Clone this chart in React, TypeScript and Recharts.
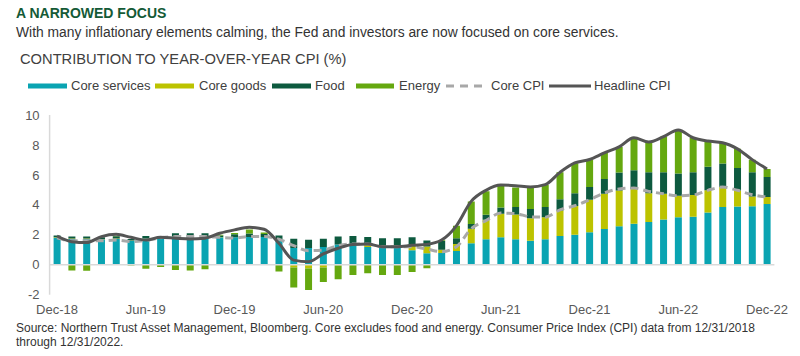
import React from 'react';
import { ComposedChart, Bar, Line, XAxis, YAxis, ReferenceLine } from 'recharts';

const months = [
  'Dec-18','Jan-19','Feb-19','Mar-19','Apr-19','May-19','Jun-19','Jul-19','Aug-19','Sep-19','Oct-19','Nov-19',
  'Dec-19','Jan-20','Feb-20','Mar-20','Apr-20','May-20','Jun-20','Jul-20','Aug-20','Sep-20','Oct-20','Nov-20',
  'Dec-20','Jan-21','Feb-21','Mar-21','Apr-21','May-21','Jun-21','Jul-21','Aug-21','Sep-21','Oct-21','Nov-21',
  'Dec-21','Jan-22','Feb-22','Mar-22','Apr-22','May-22','Jun-22','Jul-22','Aug-22','Sep-22','Oct-22','Nov-22',
  'Dec-22',
];

const coreServices = [
  1.8, 1.72, 1.72, 1.68, 1.72, 1.6, 1.77, 1.78, 1.88, 1.86, 1.86, 1.84,
  1.84, 1.86, 1.86, 1.68, 1.12, 1.12, 1.19, 1.36, 1.44, 1.19, 1.25, 1.25,
  0.97, 0.76, 0.78, 0.92, 1.43, 1.7, 1.83, 1.71, 1.6, 1.7, 1.92, 2.0,
  2.17, 2.39, 2.57, 2.73, 2.86, 3.02, 3.18, 3.2, 3.49, 3.85, 3.89, 3.91,
  4.05,
];
const coreGoods = [
  0.03, 0.03, 0.03, 0.03, 0.03, 0.02, 0.02, 0.02, 0.02, 0.02, 0.02, 0.02,
  0.0, 0.0, 0.0, 0.0, -0.18, -0.25, -0.18, -0.03, 0.0, 0.15, 0.03, 0.03,
  0.32, 0.46, 0.22, 0.47, 0.98, 1.3, 1.58, 1.65, 1.5, 1.48, 1.7, 1.92,
  2.17, 2.35, 2.39, 2.33, 1.92, 1.72, 1.43, 1.45, 1.48, 1.34, 1.07, 0.65,
  0.47,
];
const food = [
  0.12, 0.13, 0.13, 0.12, 0.15, 0.1, 0.13, 0.1, 0.2, 0.22, 0.22, 0.1,
  0.2, 0.22, 0.2, 0.27, 0.62, 0.55, 0.55, 0.52, 0.48, 0.52, 0.49, 0.49,
  0.55, 0.4, 0.58, 0.38, 0.31, 0.34, 0.42, 0.5, 0.62, 0.67, 0.76, 0.85,
  0.85, 0.98, 1.2, 1.25, 1.39, 1.43, 1.48, 1.52, 1.57, 1.57, 1.5, 1.61,
  1.34,
];
const energy = [
  0.0, -0.38, -0.4, -0.02, 0.03, -0.05, -0.27, -0.15, -0.35, -0.38, -0.3, 0.04,
  0.08, 0.27, 0.1, -0.45, -1.34, -1.43, -0.98, -0.93, -0.68, -0.56, -0.68, -0.68,
  -0.48, -0.24, 0.05, 0.83, 1.5, 1.57, 1.45, 1.3, 1.45, 1.5, 1.79, 2.0,
  1.83, 1.75, 1.7, 2.17, 2.01, 2.37, 2.91, 2.3, 1.72, 1.39, 1.28, 0.85,
  0.54,
];
const coreCPI = [
  1.8, 1.6, 1.6, 1.6, 1.65, 1.55, 1.62, 1.8, 1.88, 1.88, 1.88, 1.83,
  1.79, 1.88, 1.88, 1.7, 1.28, 0.94, 0.98, 1.28, 1.39, 1.39, 1.2, 1.2,
  1.2, 1.05, 0.87, 1.2, 2.4, 2.95, 3.45, 3.42, 3.2, 3.18, 3.67, 3.94,
  4.34, 4.79, 5.06, 5.12, 4.9, 4.74, 4.61, 4.65, 4.97, 5.19, 4.97, 4.68,
  4.52,
];
const headlineCPI = [
  1.92, 1.54, 1.48, 1.88, 2.03, 1.83, 1.65, 1.83, 1.77, 1.72, 1.77, 2.1,
  2.33, 2.5, 2.37, 1.43, 0.31, 0.2, 0.72, 1.1, 1.36, 1.39, 1.2, 1.2,
  1.3, 1.36, 1.65, 2.6, 4.23, 4.97, 5.32, 5.28, 5.2, 5.35, 6.17, 6.8,
  7.03, 7.47, 7.87, 8.48, 8.2, 8.55, 9.0, 8.48, 8.26, 8.15, 7.74, 7.02,
  6.4,
];
const yTicks = [-2, 0, 2, 4, 6, 8, 10];

const COLORS = {
  services: '#0aa4b2',
  goods: '#bcc300',
  food: '#0d5a3f',
  energy: '#65a80f',
  core: '#a8a8a8',
  headline: '#555555',
};

const data = months.map((m, i) => ({
  month: m,
  coreServices: coreServices[i],
  coreGoods: coreGoods[i],
  food: food[i],
  energy: energy[i],
  coreCPI: coreCPI[i],
  headlineCPI: headlineCPI[i],
}));

const FONT = 'Arial, "Liberation Sans", Helvetica, sans-serif';

const legendItems = [
  { label: 'Core services', color: COLORS.services, type: 'bar', x: 28, w: 39, tx: 71 },
  { label: 'Core goods', color: COLORS.goods, type: 'bar', x: 155, w: 39, tx: 199 },
  { label: 'Food', color: COLORS.food, type: 'bar', x: 272, w: 39, tx: 315 },
  { label: 'Energy', color: COLORS.energy, type: 'bar', x: 356, w: 38, tx: 399 },
  { label: 'Core CPI', color: COLORS.core, type: 'dash', x: 446, w: 37, tx: 491 },
  { label: 'Headline CPI', color: COLORS.headline, type: 'line', x: 549, w: 42, tx: 594 },
];

export default function App() {
  return (
    <div style={{ position: 'absolute', left: 0, top: 0, width: 800, height: 356, background: '#fff', fontFamily: FONT, overflow: 'hidden' }}>
      <div style={{ position: 'absolute', left: 16, top: 5, fontSize: 14, fontWeight: 'bold', color: '#145a36', lineHeight: '16px', whiteSpace: 'nowrap' }}>
        A NARROWED FOCUS
      </div>
      <div style={{ position: 'absolute', left: 16, top: 24, fontSize: 13.85, color: '#333333', lineHeight: '16px', whiteSpace: 'nowrap' }}>
        With many inflationary elements calming, the Fed and investors are now focused on core services.
      </div>
      <div style={{ position: 'absolute', left: 20, top: 50, fontSize: 14.7, color: '#404040', lineHeight: '18px', whiteSpace: 'nowrap' }}>
        CONTRIBUTION TO YEAR-OVER-YEAR CPI (%)
      </div>
      {legendItems.map((it) => (
        <React.Fragment key={it.label}>
          <svg width={it.w} height={8} style={{ position: 'absolute', left: it.x, top: 82, display: 'block' }}>
            {it.type === 'bar' && <rect x={0} y={1.5} width={it.w} height={5} fill={it.color} />}
            {it.type === 'dash' && <line x1={0} y1={4} x2={it.w} y2={4} stroke={it.color} strokeWidth={3} strokeDasharray="8 6" />}
            {it.type === 'line' && <line x1={0} y1={4} x2={it.w} y2={4} stroke={it.color} strokeWidth={3} strokeLinecap="round" />}
          </svg>
          <span style={{ position: 'absolute', left: it.tx, top: 78, lineHeight: '16px', fontSize: 13, color: '#404040', whiteSpace: 'nowrap' }}>{it.label}</span>
        </React.Fragment>
      ))}
      <div style={{ position: 'absolute', left: 0, top: 0 }}>
        <ComposedChart
          width={800}
          height={356}
          data={data}
          stackOffset="sign"
          margin={{ top: 115, right: 25.6, bottom: 41.3, left: 9.6 }}
          barCategoryGap={0}
        >
          <XAxis
            dataKey="month"
            interval={5}
            axisLine={false}
            tickLine={false}
            tickMargin={4}
            height={20}
            tick={{ fontSize: 13, fill: '#595959', fontFamily: FONT }}
          />
          <YAxis
            domain={[-2, 10]}
            ticks={yTicks}
            width={40}
            axisLine={{ stroke: '#d9d9d9', strokeWidth: 1.5 }}
            tickLine={false}
            tickMargin={4}
            tick={{ fontSize: 13, fill: '#595959', fontFamily: FONT }}
            allowDataOverflow
          />
          <ReferenceLine y={0} stroke="#d9d9d9" strokeWidth={1.5} />
          <Bar dataKey="coreServices" stackId="a" fill={COLORS.services} barSize={7} isAnimationActive={false} />
          <Bar dataKey="coreGoods" stackId="a" fill={COLORS.goods} barSize={7} isAnimationActive={false} />
          <Bar dataKey="food" stackId="a" fill={COLORS.food} barSize={7} isAnimationActive={false} />
          <Bar dataKey="energy" stackId="a" fill={COLORS.energy} barSize={7} isAnimationActive={false} />
          <Line dataKey="coreCPI" type="monotone" stroke={COLORS.core} strokeWidth={3} strokeDasharray="8 5" dot={false} isAnimationActive={false} />
          <Line dataKey="headlineCPI" type="monotone" stroke={COLORS.headline} strokeWidth={3} dot={false} isAnimationActive={false} />
        </ComposedChart>
      </div>
      <div style={{ position: 'absolute', left: 16, top: 321, fontSize: 12, color: '#333333', lineHeight: '14px', width: 780 }}>
        Source: Northern Trust Asset Management, Bloomberg. Core excludes food and energy. Consumer Price Index (CPI) data from 12/31/2018 through 12/31/2022.
      </div>
    </div>
  );
}
